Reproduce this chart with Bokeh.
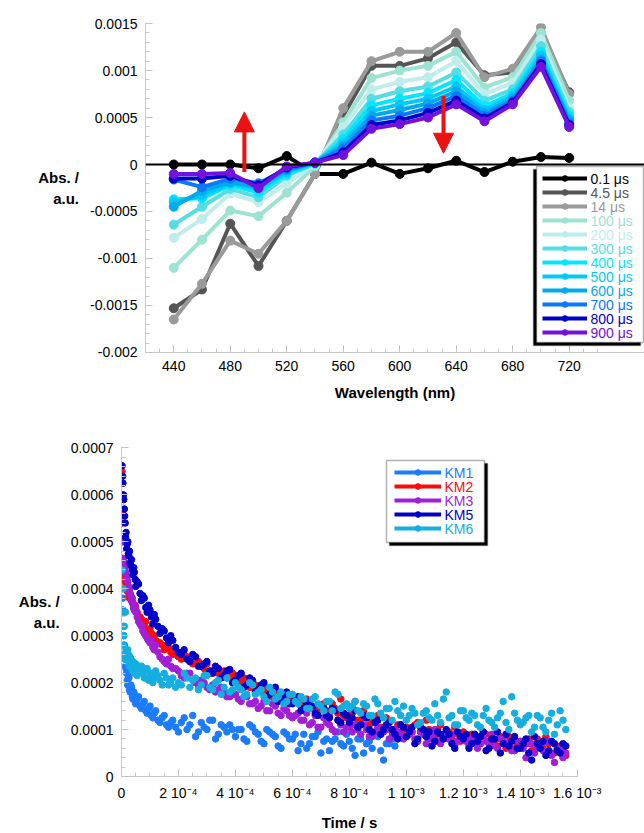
from bokeh.plotting import figure
from bokeh.models import (Legend, LegendItem, Label, Span, Arrow, NormalHead, FixedTicker, BoxAnnotation,
                          SingleIntervalTicker, CustomJSTickFormatter, Range1d)
from bokeh.embed import file_html
from bokeh.resources import INLINE

FONT = "Liberation Sans"

# ---------------- top chart data ----------------
wavelength = [440, 460, 480, 500, 520, 540, 560, 580, 600, 620, 640, 660, 680, 700, 720]
wl_ticks = [440, 480, 520, 560, 600, 640, 680, 720]
wl_minor = [420, 430, 440, 450, 460, 470, 480, 490, 500, 510, 520, 530, 540, 550, 560, 570, 580,
            590, 600, 610, 620, 630, 640, 650, 660, 670, 680, 690, 700, 710, 720, 730, 740]
spec_labels = ["0.1 μs", "4.5 μs", "14 μs", "100 μs", "200 μs", "300 μs",
               "400 μs", "500 μs", "600 μs", "700 μs", "800 μs", "900 μs"]
spec_colors = ["#000000", "#555555", "#9a9a9a", "#9ce3d2", "#bdeeec", "#55dde6",
               "#00e8ff", "#00c8fa", "#00aaee", "#0a78ff", "#0000c8", "#7410dc"]
s_0_1 = [0, 0, 0, -0.00004, 0.00009, -0.0001, -0.0001, 0.00002, -0.0001, -0.00004, 0.00004, -0.00008, 0.00003, 0.00008, 0.00007]
s_4_5 = [-0.00153, -0.00133, -0.00063, -0.00108, -0.0006, -0.0001, 0.00052, 0.00105, 0.00105, 0.00113, 0.0013, 0.00095, 0.00098, 0.0014, 0.00077]
s_14 = [-0.00165, -0.00127, -0.00081, -0.00095, -0.0006, -0.0001, 0.0006, 0.0011, 0.0012, 0.0012, 0.0014, 0.00093, 0.00102, 0.00146, 0.00075]
s_100 = [-0.0011, -0.0008, -0.00049, -0.00055, -0.0003, -0.00002, 0.00045, 0.00092, 0.001, 0.00105, 0.0012, 0.00082, 0.00093, 0.0014, 0.00068]
s_200 = [-0.00078, -0.00058, -0.00031, -0.0004, -0.0002, 0.0, 0.0004, 0.0008, 0.00088, 0.00093, 0.0011, 0.00075, 0.00087, 0.00133, 0.0006]
s_300 = [-0.00064, -0.00045, -0.00026, -0.00035, -0.00012, 0.00001, 0.00032, 0.0007, 0.00078, 0.00083, 0.00098, 0.00068, 0.0008, 0.00126, 0.00056]
s_400 = [-0.00037, -0.00036, -0.00022, -0.0003, -0.0001, 0.00001, 0.00027, 0.00063, 0.0007, 0.00076, 0.0009, 0.00062, 0.00076, 0.0012, 0.00052]
s_500 = [-0.0004, -0.00033, -0.0002, -0.00026, -0.00008, 0.00002, 0.00023, 0.00057, 0.00064, 0.0007, 0.00083, 0.00058, 0.00073, 0.00116, 0.00049]
s_600 = [-0.00045, -0.00028, -0.00019, -0.00024, -0.00006, 0.00002, 0.0002, 0.00052, 0.00058, 0.00065, 0.00078, 0.00055, 0.0007, 0.00112, 0.00047]
s_700 = [-0.00016, -0.00024, -0.00015, -0.0002, -0.00005, 0.00002, 0.00017, 0.00047, 0.00052, 0.0006, 0.00073, 0.00052, 0.00068, 0.0011, 0.00044]
s_800 = [-0.00015, -0.00015, -0.00012, -0.00022, -0.00003, 0.00002, 0.00013, 0.00042, 0.00047, 0.00055, 0.00068, 0.00049, 0.00066, 0.00107, 0.00042]
s_900 = [-0.0001, -0.0001, -0.00009, -0.00025, -0.00002, 0.00002, 0.0001, 0.00038, 0.00043, 0.0005, 0.00064, 0.00046, 0.00064, 0.00104, 0.0004]
spectra = [s_0_1, s_4_5, s_14, s_100, s_200, s_300, s_400, s_500, s_600, s_700, s_800, s_900]

# ---------------- bottom chart data (values in 1e-4 a.u., time in microseconds) ----------------
# two interleaved sample sets (a, b) per trace
t_us_a = [2, 5, 8, 11, 14, 18, 22, 26, 30, 35, 40, 45, 50, 60, 70, 80, 90, 100, 110, 120,
          135, 150, 165, 180] + list(range(200, 1561, 20))
t_us_b = [4, 7, 10, 13, 16, 20, 24, 28, 33, 38, 43, 48, 55, 65, 75, 85, 95, 105, 115, 128,
          143, 158, 173, 190] + list(range(210, 1551, 20))

km1_a = [4.0, 3.55, 3.0, 2.6, 2.35, 2.2, 1.95, 2.1, 1.8, 1.9, 1.65, 1.75, 1.55, 1.7, 1.45, 1.6, 1.35, 1.5, 1.25, 1.4, 1.15, 1.3, 1.05, 1.2,
         0.95, 1.25, 1.1, 0.85, 1.15, 1.0, 1.2, 0.9, 1.05, 1.1,
         0.85, 1.0, 0.75, 1.05, 0.9, 0.7, 0.95, 0.85, 0.6, 0.9,
         0.8, 0.55, 0.9, 0.7, 0.85, 0.5, 0.8, 0.75, 0.95, 0.65,
         0.75, 0.45, 0.8, 0.7, 0.6, 0.85, 0.35, 0.7, 0.65]
km1_b = [3.8, 3.2, 2.8, 2.5, 2.3, 2.05, 2.15, 1.85, 1.95, 1.7, 1.8, 1.6, 1.65, 1.5, 1.55, 1.4, 1.45, 1.3, 1.35, 1.2, 1.25, 1.1, 1.15, 1.05,
         1.15, 1.0, 1.3, 0.95, 1.05, 1.2, 0.8, 1.1, 0.95, 1.0,
         1.0, 0.8, 1.1, 0.95, 0.75, 1.0, 0.9, 0.65, 0.95, 0.8,
         0.9, 0.7, 0.6, 0.85, 0.95, 0.75, 0.55, 0.8, 0.7, 0.9,
         0.6, 0.8, 0.5, 0.75, 0.9, 0.55, 0.7, 0.8]
km2_a = [6.5, 5.6, 4.3, 4.25, 4.15, 4.05, 4.0, 3.85, 3.9, 3.75, 3.7, 3.55, 3.6, 3.4, 3.35, 3.2, 3.1, 3.15, 2.95, 2.9, 2.85, 2.7, 2.75, 2.6,
         2.55, 2.6, 2.45, 2.4, 2.35, 2.4, 2.25, 2.2, 2.25, 2.1,
         2.1, 2.0, 2.05, 1.9, 1.85, 1.95, 1.8, 1.75, 1.7, 1.75,
         1.65, 1.6, 1.55, 1.6, 1.45, 1.5, 1.4, 1.55, 1.35, 1.3,
         1.3, 1.6, 1.2, 1.25, 1.15, 1.3, 1.05, 1.15, 1.0, 1.1,
         1.05, 0.95, 1.15, 0.9, 1.0, 0.85, 1.1, 0.95, 0.8, 0.9,
         0.95, 0.75, 0.85, 0.7, 0.9, 0.8, 0.65, 0.75, 0.85, 0.6,
         0.75, 0.7, 0.55, 0.8, 0.6, 0.7, 0.5, 0.65, 0.45]
km2_b = [6.0, 4.35, 4.3, 4.2, 4.1, 3.95, 4.05, 3.8, 3.85, 3.7, 3.6, 3.65, 3.5, 3.4, 3.25, 3.3, 3.1, 3.05, 3.0, 2.85, 2.8, 2.75, 2.65, 2.65,
         2.5, 2.55, 2.4, 2.45, 2.3, 2.2, 2.3, 2.15, 2.1, 2.2,
         2.0, 2.1, 1.9, 1.95, 1.8, 1.85, 1.7, 1.8, 1.65, 1.6,
         1.6, 1.5, 1.65, 1.45, 1.4, 1.55, 1.3, 1.45, 1.65, 1.25,
         1.35, 1.2, 1.4, 1.1, 1.2, 1.05, 1.25, 0.95, 1.1, 1.0,
         0.9, 1.1, 0.95, 1.2, 0.85, 1.0, 0.8, 0.95, 1.05, 0.75,
         0.85, 0.9, 0.7, 0.95, 0.75, 0.7, 0.85, 0.6, 0.8, 0.7,
         0.65, 0.8, 0.55, 0.7, 0.85, 0.5, 0.6, 0.55]
km3_a = [5.4, 4.65, 4.55, 4.4, 4.35, 4.2, 4.15, 3.95, 3.9, 3.75, 3.7, 3.55, 3.5, 3.3, 3.2, 3.05, 2.95, 2.85, 2.75, 2.8, 2.55, 2.45, 2.5, 2.3,
         2.25, 2.1, 2.2, 2.0, 2.05, 1.9, 1.95, 1.85, 1.8, 1.7,
         1.75, 1.6, 1.7, 1.55, 1.45, 1.6, 1.4, 1.5, 1.3, 1.4,
         1.25, 1.35, 1.2, 1.1, 1.3, 1.05, 1.15, 1.0, 1.2, 0.95,
         1.05, 1.1, 0.9, 1.0, 0.85, 1.05, 0.95, 0.8, 1.0, 0.9,
         0.85, 0.95, 0.75, 0.9, 0.8, 1.0, 0.7, 0.85, 0.9, 0.75,
         0.8, 0.65, 0.85, 0.7, 0.75, 0.9, 0.6, 0.8, 0.7, 0.55,
         0.75, 0.4, 0.7, 0.65, 0.55, 0.75, 0.3, 0.6, 0.5]
km3_b = [5.0, 4.6, 4.5, 4.45, 4.3, 4.25, 4.05, 4.0, 3.85, 3.8, 3.6, 3.6, 3.4, 3.25, 3.1, 3.0, 2.9, 2.9, 2.7, 2.65, 2.5, 2.4, 2.35, 2.3,
         2.15, 2.2, 2.05, 1.95, 2.0, 1.85, 1.8, 1.9, 1.7, 1.75,
         1.65, 1.7, 1.55, 1.6, 1.5, 1.4, 1.55, 1.35, 1.45, 1.3,
         1.3, 1.2, 1.35, 1.15, 1.05, 1.25, 1.1, 0.95, 1.1, 1.05,
         0.95, 1.0, 1.1, 0.85, 0.95, 0.9, 1.0, 0.85, 0.95, 0.8,
         0.9, 0.8, 0.95, 0.7, 0.85, 0.75, 0.9, 0.8, 0.65, 0.85,
         0.75, 0.8, 0.6, 0.85, 0.7, 0.65, 0.8, 0.7, 0.55, 0.75,
         0.6, 0.7, 0.5, 0.65, 0.75, 0.45, 0.6, 0.4]
km5_a = [6.62, 6.25, 5.9, 5.55, 5.1, 4.85, 5.0, 4.7, 4.55, 4.62, 4.3, 4.35, 4.05, 4.1, 3.75, 3.8, 3.5, 3.55, 3.25, 3.35, 3.05, 3.1, 2.85, 2.9,
         2.65, 2.7, 2.45, 2.55, 2.35, 2.45, 2.2, 2.3, 2.15, 2.28,
         2.05, 2.2, 1.95, 2.05, 1.85, 2.0, 1.75, 1.9, 1.65, 1.8,
         1.55, 1.7, 1.45, 1.6, 1.35, 1.5, 1.3, 1.45, 1.2, 1.35,
         1.15, 1.4, 1.1, 1.25, 0.95, 1.2, 1.0, 1.15, 0.9, 1.1,
         0.85, 1.05, 0.8, 1.0, 0.95, 0.75, 0.9, 1.0, 0.7, 0.95,
         0.8, 0.6, 0.9, 0.85, 0.55, 0.8, 0.95, 0.7, 0.65, 0.85,
         0.6, 0.8, 0.35, 0.7, 0.75, 0.55, 0.7, 0.5, 0.65]
km5_b = [6.4, 6.0, 5.7, 5.4, 5.2, 4.95, 4.75, 4.8, 4.5, 4.4, 4.45, 4.2, 4.15, 3.9, 3.85, 3.6, 3.65, 3.4, 3.45, 3.2, 3.15, 2.95, 3.0, 2.75,
         2.6, 2.5, 2.6, 2.35, 2.4, 2.25, 2.35, 2.1, 2.25, 2.0,
         2.15, 1.9, 2.1, 1.8, 1.95, 1.7, 1.85, 1.6, 1.75, 1.55,
         1.65, 1.4, 1.55, 1.5, 1.3, 1.45, 1.25, 1.4, 1.15, 1.3,
         1.25, 1.05, 1.3, 1.0, 1.15, 0.9, 1.1, 1.0, 0.8, 1.05,
         0.95, 0.7, 1.05, 0.85, 0.65, 0.95, 0.8, 0.9, 0.6, 0.85,
         0.9, 0.7, 0.75, 0.95, 0.6, 0.8, 0.5, 0.9, 0.75, 0.6,
         0.7, 0.5, 0.85, 0.6, 0.45, 0.75, 0.55, 0.7]
km6_a = [4.4, 4.0, 3.0, 2.6, 3.5, 2.5, 2.7, 2.4, 2.55, 2.3, 2.45, 2.2, 2.4, 2.25, 2.35, 2.1, 2.3, 2.15, 2.0, 2.25, 2.05, 2.2, 1.95, 2.1,
         2.0, 2.2, 1.9, 2.1, 1.95, 2.15, 1.85, 2.05, 1.9, 1.8,
         2.0, 1.85, 1.75, 1.95, 1.8, 1.7, 1.9, 1.65, 1.8, 1.6,
         1.75, 1.55, 1.65, 1.45, 1.7, 1.5, 1.6, 1.4, 1.75, 1.5,
         1.45, 1.6, 1.35, 1.5, 1.3, 1.55, 1.25, 1.45, 1.6, 1.3,
         1.2, 1.45, 1.1, 1.35, 1.25, 1.55, 1.15, 1.8, 1.3, 1.1,
         1.4, 1.2, 1.3, 1.05, 1.45, 1.15, 1.25, 1.6, 1.0, 1.35,
         1.1, 1.25, 0.95, 1.3, 1.05, 1.2, 0.9, 1.4, 1.0]
km6_b = [3.5, 2.8, 3.2, 2.5, 2.7, 2.45, 2.6, 2.35, 2.5, 2.25, 2.4, 2.3, 2.15, 2.35, 2.2, 2.25, 2.05, 2.2, 2.1, 2.15, 1.95, 2.1, 2.0, 1.9,
         1.95, 2.1, 2.05, 1.85, 2.15, 1.9, 2.0, 1.75, 2.1, 1.85,
         1.9, 1.7, 2.0, 1.75, 1.85, 1.6, 1.8, 1.7, 1.55, 1.75,
         1.6, 1.7, 1.45, 1.65, 1.55, 1.4, 1.6, 1.8, 1.45, 1.55,
         1.5, 1.4, 1.55, 1.3, 1.65, 1.35, 1.45, 1.2, 1.4, 1.5,
         1.3, 1.35, 1.15, 1.4, 1.2, 1.3, 1.65, 1.25, 1.1, 1.4,
         1.25, 1.35, 1.1, 1.3, 1.2, 1.05, 1.35, 1.15, 1.7, 1.2,
         1.15, 1.3, 1.05, 1.25, 0.95, 1.35, 1.1, 1.2]
kin_labels = ["KM1", "KM2", "KM3", "KM5", "KM6"]
kin_colors = ["#1a7cff", "#ff0a0a", "#a21fd6", "#0000c8", "#14aee0"]
kin_a = [km1_a, km2_a, km3_a, km5_a, km6_a]
kin_b = [km1_b, km2_b, km3_b, km5_b, km6_b]

# ---------------- helpers ----------------
num_fmt = CustomJSTickFormatter(code="return Number(tick.toPrecision(6)).toString();")
sci_fmt = CustomJSTickFormatter(code="""
if (Math.abs(tick) < 1e-12) return "0";
const e = Math.floor(Math.log10(Math.abs(tick)) + 1e-9);
let m = Math.round(tick / Math.pow(10, e) * 10) / 10;
const sup = {"-": "\u207b", "0": "\u2070", "1": "\u00b9", "2": "\u00b2", "3": "\u00b3",
             "4": "\u2074", "5": "\u2075", "6": "\u2076", "7": "\u2077", "8": "\u2078", "9": "\u2079"};
const es = String(e).split("").map(c => sup[c]).join("");
return m + " 10" + es;
""")


def style(p):
    p.outline_line_color = None
    p.grid.visible = False
    p.background_fill_color = "white"
    p.border_fill_color = "white"
    for ax in (p.xaxis[0], p.yaxis[0]):
        ax.axis_line_color = "#c8c8c8"
        ax.axis_line_width = 1
        ax.major_tick_line_color = "#b8b8b8"
        ax.minor_tick_line_color = "#c8c8c8"
        ax.major_tick_in = 7
        ax.major_tick_out = 0
        ax.minor_tick_in = 4
        ax.minor_tick_out = 0
        ax.major_label_text_font = FONT
        ax.major_label_text_font_size = "14px"
        ax.major_label_text_color = "black"
        ax.major_label_standoff = 8
        ax.axis_label_text_font = FONT
        ax.axis_label_text_font_size = "15px"
        ax.axis_label_text_font_style = "bold"
        ax.axis_label_text_color = "black"
    p.yaxis[0].axis_label_orientation = "horizontal"


def legend_panel(p, items, labels, colors, box, shadow, loc, glyph_w, text_x, text_y0):
    # box = (left, right, bottom, top) in screen px relative to the frame (y upward)
    l, r, b, t = box
    dx, dy = shadow
    p.add_layout(BoxAnnotation(left=l + dx, right=r + dx, bottom=b + dy, top=t + dy,
                               left_units="screen", right_units="screen",
                               bottom_units="screen", top_units="screen",
                               fill_color="black", fill_alpha=1, line_color="black", line_width=1.5))
    p.add_layout(BoxAnnotation(left=l, right=r, bottom=b, top=t,
                               left_units="screen", right_units="screen",
                               bottom_units="screen", top_units="screen",
                               fill_color="white", fill_alpha=1, line_color="black", line_width=1.5))
    p.add_layout(Legend(items=items, location=loc, label_text_font_size="11px", label_text_alpha=0,
                        label_width=10, label_height=14, glyph_height=14, glyph_width=glyph_w,
                        label_standoff=3, padding=6, spacing=0, margin=0,
                        border_line_alpha=0, background_fill_alpha=0))
    for i, (lab, col) in enumerate(zip(labels, colors)):
        p.add_layout(Label(x=text_x, y=text_y0 - 14 * i, x_units="screen", y_units="screen", text=lab,
                           text_color=col, text_font=FONT, text_font_size="14px",
                           text_baseline="middle", text_align="left", level="overlay"))


# ---------------- top figure ----------------
# frame spans 145..644 px so the legend box at the right edge is not clipped; 740 nm lands at ~597 px
p1 = figure(width=644, height=410, x_range=Range1d(420, 773.3), y_range=Range1d(-0.002001, 0.001501),
            output_backend="svg", toolbar_location=None,
            min_border_left=145, min_border_right=0, min_border_top=23, min_border_bottom=58)
style(p1)
p1.xaxis[0].ticker = FixedTicker(ticks=wl_ticks, minor_ticks=wl_minor)
p1.yaxis[0].ticker = SingleIntervalTicker(interval=0.0005, num_minor_ticks=5)
p1.yaxis[0].formatter = num_fmt
p1.xaxis[0].axis_label = "Wavelength (nm)"
p1.xaxis[0].axis_label_standoff = 10
p1.yaxis[0].axis_label = "Abs. /\na.u."
p1.yaxis[0].axis_label_standoff = 8

p1.add_layout(Span(location=0, dimension="width", line_color="black", line_width=2))

items1 = []
for lab, col, vals in zip(spec_labels, spec_colors, spectra):
    rl = p1.line(wavelength, vals, line_color=col, line_width=4)
    rs = p1.scatter(wavelength, vals, size=9, fill_color=col, line_color=col)
    items1.append(LegendItem(label=" ", renderers=[rl, rs]))

red = "#ee1111"
p1.add_layout(Arrow(end=NormalHead(size=20, fill_color=red, line_color=red),
                    x_start=490, y_start=-0.00008, x_end=490, y_end=0.00056,
                    line_color=red, line_width=4))
p1.add_layout(Arrow(end=NormalHead(size=20, fill_color=red, line_color=red),
                    x_start=631, y_start=0.00073, x_end=631, y_end=0.00012,
                    line_color=red, line_width=4))

legend_panel(p1, items1, spec_labels, spec_colors, box=(391, 498, 10, 186), shadow=(-3, -3),
             loc=(391, 7), glyph_w=45, text_x=445, text_y0=174)

# ---------------- bottom figure ----------------
p2 = figure(width=644, height=423, x_range=Range1d(0, 0.001601), y_range=Range1d(0, 0.000701),
            output_backend="svg", toolbar_location=None,
            min_border_left=121, min_border_right=67, min_border_top=37, min_border_bottom=57)
style(p2)
p2.xaxis[0].ticker = SingleIntervalTicker(interval=0.0002, num_minor_ticks=4)
p2.yaxis[0].ticker = SingleIntervalTicker(interval=0.0001, num_minor_ticks=5)
p2.xaxis[0].formatter = sci_fmt
p2.yaxis[0].formatter = num_fmt
p2.xaxis[0].axis_label = "Time / s"
p2.xaxis[0].axis_label_standoff = 10
p2.yaxis[0].axis_label = "Abs. /\na.u."
p2.yaxis[0].axis_label_standoff = 8

items2 = []
for lab, col, va, vb in zip(kin_labels, kin_colors, kin_a, kin_b):
    ts = [t * 1e-6 for t in t_us_a[:len(va)]] + [t * 1e-6 for t in t_us_b[:len(vb)]]
    ys = [v * 1e-4 for v in va] + [v * 1e-4 for v in vb]
    p2.scatter(ts, ys, size=6.5, fill_color=col, line_color=col)
    dl = p2.line(ts, ys, line_color=col, line_width=4, visible=False)
    dm = p2.scatter(ts, ys, size=4, fill_color=col, line_color=col, visible=False)
    items2.append(LegendItem(label=" ", renderers=[dl, dm]))

legend_panel(p2, items2, kin_labels, kin_colors, box=(265, 363, 234, 316), shadow=(3, -3),
             loc=(267, 235), glyph_w=47, text_x=323, text_y0=304)

open("out.html", "w").write(file_html([p1, p2], INLINE))
